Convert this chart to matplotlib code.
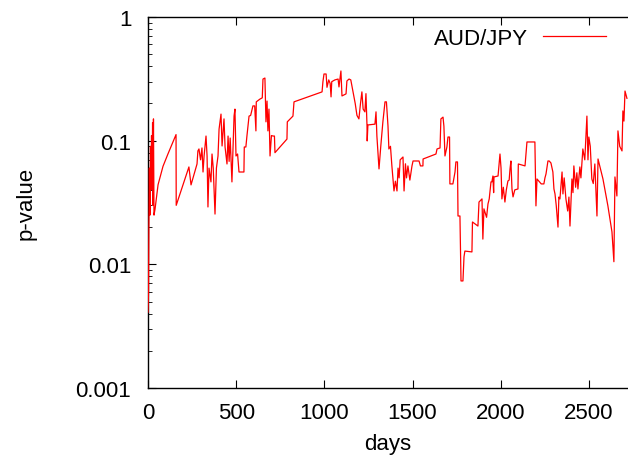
import matplotlib
matplotlib.use("Agg")
import matplotlib.pyplot as plt
import matplotlib.ticker as mticker
import numpy as np

plt.rcParams['font.family'] = ['Liberation Sans', 'DejaVu Sans']

# p-value series for AUD/JPY
days = [
    0, 3, 5, 8, 11, 14, 17, 20, 23, 26, 28, 31, 34,
    40, 57, 85, 113, 159, 160,
    232, 244, 278, 283, 289, 298, 306, 312, 318, 329, 335, 340, 346, 357, 363, 370, 380, 388,
    397, 403, 414, 420, 431, 437, 448, 454, 460, 466, 476, 488, 493, 499, 508, 516, 530, 544,
    546, 555, 561, 573, 582, 595, 605, 612, 614, 635, 648, 652, 663, 669, 675, 680, 686, 692,
    700, 709, 717, 720, 788, 790, 822, 828,
    987, 992, 998, 1010, 1015, 1025, 1033, 1038, 1042, 1060, 1078, 1083, 1094, 1100, 1123,
    1128, 1140, 1150, 1162, 1175, 1185, 1196, 1205, 1213, 1220, 1230, 1236, 1242, 1243, 1247,
    1287, 1293, 1298, 1310, 1320, 1332, 1338, 1344, 1352, 1361, 1366, 1375, 1383, 1395, 1403,
    1412, 1418, 1424, 1430, 1446, 1452, 1460, 1466, 1474, 1485, 1497, 1503, 1537, 1545, 1559,
    1560, 1633, 1639, 1656, 1661, 1673, 1678, 1684, 1695, 1701, 1710, 1712, 1729, 1741, 1746,
    1755, 1758, 1769, 1775, 1786, 1792, 1797, 1837, 1840, 1871, 1877, 1894, 1899, 1905, 1920,
    1928, 1935, 1945, 1950, 1956, 1960, 1962, 1985, 1996, 2002, 2007, 2015, 2024, 2032, 2041,
    2048, 2053, 2058, 2064, 2070, 2080, 2098, 2100, 2138, 2149, 2194, 2200, 2206, 2230, 2245,
    2251, 2257, 2268, 2275, 2285, 2296, 2302, 2308, 2315, 2325, 2330, 2336, 2348, 2353, 2360,
    2370, 2380, 2387, 2393, 2398, 2404, 2410, 2415, 2425, 2432, 2438, 2449, 2455, 2466, 2477,
    2489, 2495, 2500, 2508, 2517, 2525, 2534, 2546, 2552, 2580, 2608, 2631, 2642, 2648, 2659,
    2665, 2675, 2688, 2693, 2699, 2705, 2716,
]
pvals = [
    0.0041, 0.006, 0.02, 0.06, 0.025, 0.09, 0.04, 0.11, 0.05, 0.14, 0.03, 0.15, 0.025,
    0.028, 0.044, 0.062, 0.078, 0.112, 0.030,
    0.0613, 0.0439, 0.0648, 0.0826, 0.0857, 0.070, 0.0873, 0.0558, 0.075, 0.109, 0.075, 0.0291,
    0.06, 0.0464, 0.078, 0.06, 0.0255, 0.06,
    0.0752, 0.124, 0.164, 0.0906, 0.150, 0.0889, 0.0648, 0.109, 0.068, 0.105, 0.0464, 0.158,
    0.180, 0.0752, 0.078, 0.0558, 0.0558, 0.0558,
    0.0889, 0.0889, 0.109, 0.158, 0.160, 0.191, 0.191, 0.120, 0.206, 0.217, 0.222, 0.315, 0.321,
    0.142, 0.209, 0.120, 0.18, 0.0752,
    0.11, 0.109, 0.109, 0.080, 0.103, 0.142, 0.158, 0.206,
    0.248, 0.30, 0.346, 0.346, 0.27, 0.31, 0.29, 0.226, 0.30, 0.310, 0.315, 0.272, 0.366, 0.230,
    0.239,
    0.304, 0.315, 0.31, 0.252, 0.20, 0.16, 0.150, 0.20, 0.248, 0.18, 0.171, 0.24, 0.131, 0.0995,
    0.134,
    0.136, 0.171, 0.109, 0.0591, 0.09, 0.142, 0.17, 0.206, 0.206, 0.131, 0.0857, 0.09, 0.0625,
    0.0392, 0.047,
    0.0392, 0.06, 0.05, 0.07, 0.0738, 0.0392, 0.065, 0.05, 0.0625, 0.048, 0.0625, 0.0685, 0.0685,
    0.0625, 0.0625,
    0.0711, 0.0780, 0.0857, 0.0873, 0.150, 0.155, 0.131, 0.0752, 0.0889, 0.107, 0.107, 0.0447,
    0.0447, 0.0558, 0.0673,
    0.0673, 0.0246, 0.0246, 0.00734, 0.00734, 0.0115, 0.0128, 0.0126, 0.0220, 0.0204, 0.0319,
    0.0338, 0.0160, 0.0281, 0.024,
    0.0308, 0.0338, 0.0464, 0.0464, 0.0518, 0.038, 0.0509, 0.0518, 0.0780, 0.06, 0.0338, 0.042,
    0.0319, 0.04, 0.0472,
    0.048, 0.0591, 0.0685, 0.0407, 0.0351, 0.040, 0.0407, 0.0648, 0.0625, 0.0976, 0.0976, 0.0297,
    0.0490, 0.0447, 0.0447,
    0.050, 0.0538, 0.0685, 0.0685, 0.066, 0.0558, 0.0407, 0.0371, 0.030, 0.0200, 0.035, 0.0338,
    0.0558, 0.0371, 0.05,
    0.0338, 0.027, 0.035, 0.0204, 0.03, 0.0490, 0.038, 0.0625, 0.042, 0.055, 0.0407, 0.0613,
    0.05, 0.0857, 0.07,
    0.158, 0.07, 0.107, 0.09, 0.0490, 0.045, 0.0648, 0.0246, 0.0711, 0.0490, 0.0297, 0.0183,
    0.0105, 0.0509, 0.0357,
    0.120, 0.09, 0.0826, 0.174, 0.144, 0.252, 0.22,
]

fig = plt.figure(figsize=(6.28, 4.64), dpi=100)
ax = fig.add_axes([148 / 628, 1 - 389 / 464, 1 - 148 / 628, (389 - 18) / 464])

ax.plot(days, pvals, color='red', lw=0.9, label='AUD/JPY', zorder=3)

ax.set_yscale('log')
ax.set_ylim(0.001, 1)
ax.set_xlim(0, 2722)
ax.set_xticks([0, 500, 1000, 1500, 2000, 2500])
ax.yaxis.set_major_locator(mticker.FixedLocator([0.001, 0.01, 0.1, 1]))
ax.yaxis.set_major_formatter(mticker.FixedFormatter(['0.001', '0.01', '0.1', '1']))
ax.yaxis.set_minor_locator(mticker.LogLocator(base=10, subs=np.arange(2, 10)))
ax.yaxis.set_minor_formatter(mticker.NullFormatter())

ax.spines['right'].set_visible(False)
for s in ['left', 'top', 'bottom']:
    ax.spines[s].set_linewidth(1.0)
ax.tick_params(which='both', direction='in', top=True, right=False, labelsize=16)
ax.tick_params(axis='y', pad=12)
ax.tick_params(axis='x', pad=10)
ax.tick_params(which='major', length=6, width=0.8)
ax.tick_params(which='minor', length=3, width=0.6)

ax.set_xlabel('days', fontsize=16, labelpad=7)
ax.set_ylabel('p-value', fontsize=16, labelpad=28)

ax.legend(loc='upper right', bbox_to_anchor=(0.972, 0.994), frameon=False, fontsize=16,
          markerfirst=False, handlelength=2.8, handletextpad=0.7,
          borderaxespad=0.0, borderpad=0.4)

fig.savefig('out.png', dpi=100)
